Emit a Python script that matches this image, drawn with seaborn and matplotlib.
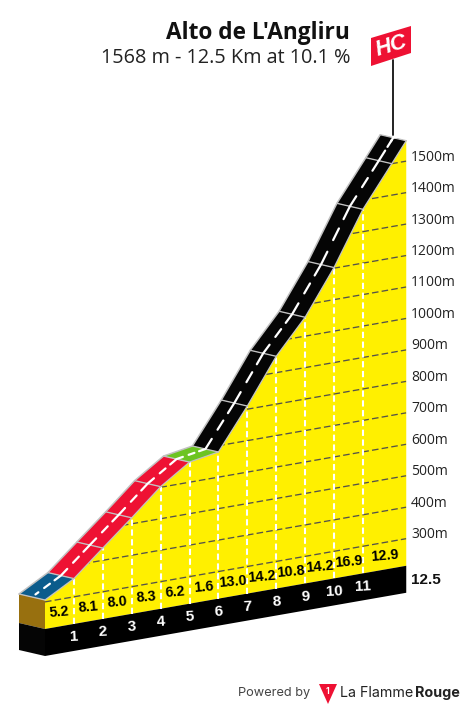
import matplotlib
matplotlib.use("Agg")
import numpy as np
import matplotlib.pyplot as plt
import seaborn as sns
from matplotlib.patches import Polygon
from matplotlib.transforms import Affine2D

sns.set_theme(style="white")

# ---- data ----
TITLE = "Alto de L'Angliru"
SUBTITLE = "1568 m - 12.5 Km at 10.1 %"
km_marks = [0, 1, 2, 3, 4, 5, 6, 7, 8, 9, 10, 11, 12, 12.5]
elevation = [306, 358, 439, 519, 602, 664, 680, 810, 952, 1060, 1202, 1371, 1500, 1565]
gradients = ["5.2", "8.1", "8.0", "8.3", "6.2", "1.6", "13.0", "14.2", "10.8", "14.2", "16.9", "12.9"]
gradient_km = [0.5, 1.5, 2.5, 3.5, 4.5, 5.5, 6.5, 7.5, 8.5, 9.5, 10.5, 11.75]
segment_colors = ["#0b5c8c", "#ee1133", "#ee1133", "#ee1133", "#ee1133", "#6cc421",
                  "#050505", "#050505", "#050505", "#050505", "#050505", "#050505", "#050505"]
km_labels = list(range(1, 12))
grid_elevations = list(range(300, 1600, 100))
total_km = 12.5

# ---- scales: 28.9 px per km, 0.3146 px per m, plus a perspective shear ----
W, H = 465, 710
PX_KM, PX_M = 28.9, 0.3146
X0, Y0 = 45, 600
SHEAR = 0.175 * PX_KM / PX_M   # metres of apparent rise per km

fig = plt.figure(figsize=(W / 100, H / 100), dpi=100)
ax = fig.add_axes([0, 0, 1, 1])
ax.set_xlim(-X0 / PX_KM, (W - X0) / PX_KM)
ax.set_ylim(elevation[0] - (H - Y0) / PX_M, elevation[0] + Y0 / PX_M)
ax.axis("off")

px = Affine2D().scale(1 / W, -1 / H).translate(0, 1) + fig.transFigure

km = np.array(km_marks, dtype=float)
ele = np.array(elevation, dtype=float)
def sk(k, e):
    return np.asarray(e, dtype=float) + SHEAR * np.asarray(k, dtype=float)
def line(xs, ys, **kw):
    sns.lineplot(x=list(xs), y=list(ys), estimator=None, sort=False, ax=ax, legend=False, **kw)
    return ax.lines[-1]

BASE_DROP = 29 / PX_M          # yellow wall height
BAND_DROP = 56 / PX_M          # bottom of the black band
ROAD_DK, ROAD_DE = -26 / PX_KM, 6 / PX_M  # road width vector

start, end = km[0], km[-1]
base_e = ele[0] - BASE_DROP
band_e = ele[0] - BAND_DROP

# yellow wall
wall_x = np.r_[km, end, start]
wall_y = np.r_[sk(km, ele), sk(end, base_e), sk(start, base_e)]
yellow = ax.fill(wall_x, wall_y, color="#fff000", lw=0, zorder=1)[0]

# black band and left side
ax.fill([start, end, end, start],
        [sk(start, base_e), sk(end, base_e), sk(end, band_e), sk(start, band_e)],
        color="#000000", lw=0, zorder=2)
lx = start + ROAD_DK
ax.fill([lx, start, start, lx],
        [sk(start, ele[0]) + ROAD_DE, sk(start, ele[0]), sk(start, base_e), sk(start, base_e) + ROAD_DE],
        color="#98700f", lw=0, zorder=2)
ax.fill([lx, start, start, lx],
        [sk(start, base_e) + ROAD_DE, sk(start, base_e), sk(start, band_e), sk(start, band_e) + ROAD_DE],
        color="#050505", lw=0, zorder=2)

# elevation grid
for g in grid_elevations:
    l = line([start, end], [sk(start, g), sk(end, g)], color="#55534a", lw=0.95,
             linestyle=(0, (5, 2.4)), zorder=3)
    l.set_clip_path(yellow)
    if g <= 1500:
        _, y_lab = ax.transData.transform((end, sk(end, g)))
        ax.text(411, H - y_lab - 4, f"{g}m", transform=px, ha="left", va="center",
                family="Open Sans", fontsize=10, color="#222222", zorder=6)

# km verticals
for k, e in zip(km_marks[1:12], elevation[1:12]):
    line([k, k], [sk(k, base_e), sk(k, e)], color="white", lw=1.5,
         linestyle=(0, (3, 1.7)), zorder=4)

# road
for i, c in enumerate(segment_colors):
    k0, k1, e0, e1 = km[i], km[i + 1], ele[i], ele[i + 1]
    ax.fill([k0, k1, k1 + ROAD_DK, k0 + ROAD_DK],
            [sk(k0, e0), sk(k1, e1), sk(k1, e1) + ROAD_DE, sk(k0, e0) + ROAD_DE],
            color=c, lw=0, zorder=5)
edge = "#c2c2c2"
line(km, sk(km, ele), color=edge, lw=0.9, zorder=5.2)
line(km + ROAD_DK, sk(km, ele) + ROAD_DE, color=edge, lw=1.1, zorder=5.2)
for k, e in zip(km_marks, elevation):
    line([k, k + ROAD_DK], [sk(k, e), sk(k, e) + ROAD_DE], color=edge, lw=0.95, zorder=5.2)

# centre line: a long dash across each km mark and a short one between marks
def centre(k):
    return k + ROAD_DK / 2, sk(k, np.interp(k, km, ele)) + ROAD_DE / 2
def dash(k0, k1):
    ks = [k0] + [m for m in km_marks if k0 < m < k1] + [k1]
    xs, ys = zip(*[centre(k) for k in ks])
    line(xs, ys, color="white", lw=1.6, zorder=5.4)
for m in km_marks[:-1]:
    dash(max(m - 0.22, 0.12), m + 0.22)
    dash(m + 0.42, m + 0.62)
dash(12.3, 12.45)

# gradients
NARROW = ["Liberation Sans"]
for g, k in zip(gradients, gradient_km):
    ax.text(k, sk(k, base_e) + 14 / PX_M, g, ha="center", va="center", rotation=5,
            rotation_mode="anchor", family=NARROW, fontweight="bold", fontsize=10.4,
            color="#000000", zorder=6)
# km numbers
for k in km_labels:
    ax.text(k, sk(k, base_e) - 13 / PX_M, str(k), ha="center", va="center", rotation=3,
            rotation_mode="anchor", family=NARROW, fontweight="bold", fontsize=11,
            color="white", zorder=6)
ax.text(411, 580, "12.5", transform=px, ha="left", va="center", family=NARROW,
        fontweight="bold", fontsize=11, color="#111111")

# titles
ax.text(350, 33, TITLE, transform=px, ha="right", va="center", family="Open Sans",
        fontweight="bold", fontsize=16.3, color="#111111")
ax.text(350, 58, SUBTITLE, transform=px, ha="right", va="center", family="Open Sans",
        fontsize=14.35, color="#222222")

# HC flag
x_pole = end + ROAD_DK / 2
line([x_pole, x_pole], [sk(end, ele[-1]) + ROAD_DE, ele[0] + (600 - 60) / PX_M],
     color="#111111", lw=1.3, zorder=4.5)
ax.add_patch(Polygon([(371, 38), (411, 26), (411, 53), (371, 66)], closed=True,
                     transform=px, color="#ee1133", lw=0, zorder=6))
ax.text(391, 46, "HC", transform=px, ha="center", va="center", rotation=17,
        rotation_mode="anchor", family=NARROW, fontweight="bold", fontstyle="italic",
        fontsize=16, color="white", zorder=7)

# footer
ax.text(238, 693, "Powered by", transform=px, ha="left", va="center", family="Inter",
        fontsize=9.2, color="#444444")
ax.add_patch(Polygon([(319, 684), (337, 684), (328, 704)], closed=True, transform=px,
                     color="#ee1133", lw=0))
ax.text(327.5, 691, "1", transform=px, ha="center", va="center", family="Inter",
        fontweight="bold", fontsize=6, color="white")
ax.text(340, 693, "La Flamme", transform=px, ha="left", va="center", family="Inter",
        fontsize=10.3, color="#222222")
ax.text(460, 693, "Rouge", transform=px, ha="right", va="center", family="Inter",
        fontweight="bold", fontsize=10.3, color="#222222")

fig.savefig("out.png", dpi=100)
